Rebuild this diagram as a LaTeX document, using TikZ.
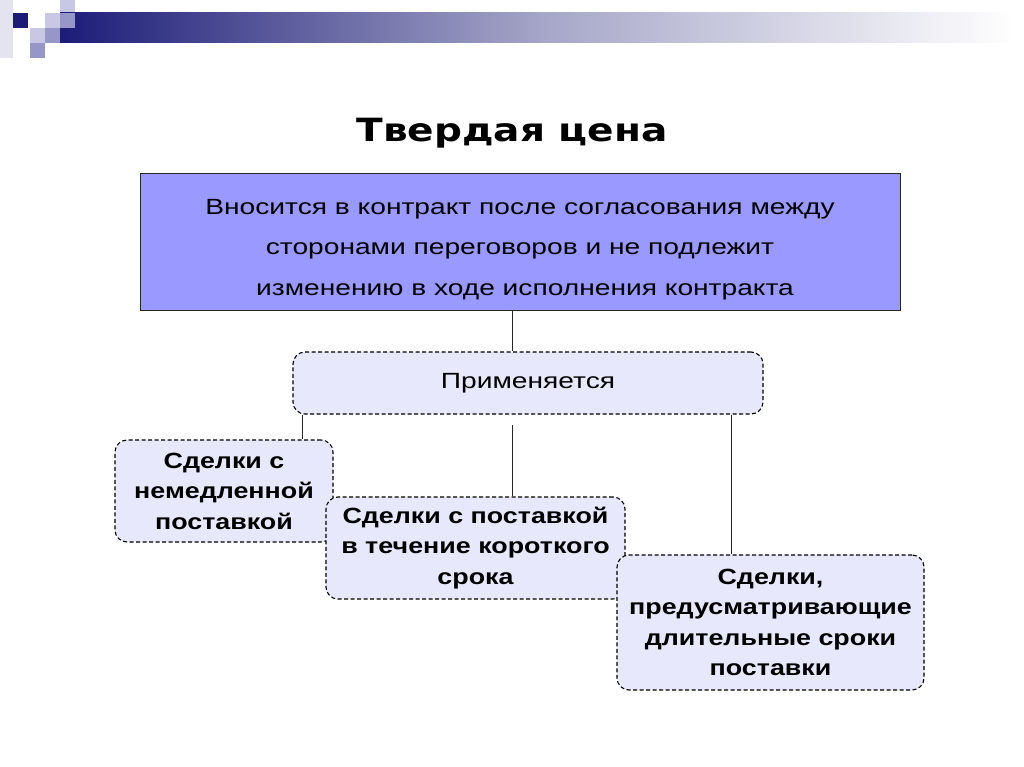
\documentclass[tikz,border=0pt]{standalone}
\usepackage{fontspec}
\setmainfont{Liberation Sans}
\newfontfamily\regwide[FakeStretch=1.28]{Liberation Sans}
\newfontfamily\boldwide[FakeStretch=1.22]{Liberation Sans Bold}
\newfontfamily\titlefont[FakeStretch=1.22]{DejaVu Sans Bold}
\definecolor{navy}{RGB}{28,28,120}
\definecolor{midbar}{RGB}{165,165,200}
\definecolor{mainfill}{RGB}{153,153,255}
\definecolor{lav}{RGB}{232,232,252}
\definecolor{sq1}{RGB}{228,228,240}
\definecolor{sq2}{RGB}{200,200,228}
\definecolor{sq3}{RGB}{150,150,200}
\begin{document}
\begin{tikzpicture}[x=1pt,y=-1pt,
  mainbox/.style={draw=black!85, line width=0.9pt, fill=mainfill, minimum width=760pt, minimum height=137pt, inner sep=0pt},
  maintext/.style={align=center, inner sep=0pt, font=\regwide\fontsize{22}{40.5}\selectfont},
  dbox/.style={draw=black, line width=1.1pt, dash pattern=on 4pt off 2.5pt, fill=lav, rounded corners=12pt, align=center, inner sep=0pt},
  boldtxt/.style={font=\boldwide\fontsize{22}{30.5}\selectfont},
  conn/.style={draw=black!85, line width=0.9pt}
]
\useasboundingbox (0,0) rectangle (1024,767);
\fill[white] (0,0) rectangle (1024,767);
% header decoration
\fill[sq1] (0,0) rectangle (13,58);
\fill[sq2] (60,0) rectangle (75,13);
\shade[left color=navy, right color=midbar] (60,13) rectangle (540,43);
\shade[left color=midbar, right color=white] (539,13) rectangle (1015,43);
\fill[sq2] (45,13) rectangle (60,28);
\fill[sq3] (60,13) rectangle (75,28);
\fill[navy] (13,13) rectangle (28,28);
\fill[sq2] (30,28) rectangle (45,43);
\fill[sq3] (45,28) rectangle (60,43);
\fill[sq3] (30,43) rectangle (45,58);
% title
\node[font=\titlefont\fontsize{32}{36}\selectfont] (title) at (512,133) {Твердая цена};
% main box
\node[mainbox] (main) at (520,241.5) {};
\node[maintext] (maintxt) at ([yshift=-8pt]main.center) {Вносится в контракт после согласования между\\сторонами переговоров и не подлежит\\\hspace*{10pt}изменению в ходе исполнения контракта};
\node[dbox, minimum width=470pt, minimum height=62pt, font=\regwide\fontsize{22}{26}\selectfont] (app) at (528,383) {Применяется};
\draw[conn] (main.south -| 512,0) -- (app.north -| 512,0);
% child boxes
\node[dbox, boldtxt, minimum width=218pt, minimum height=102pt] (b1) at (224,491) {Сделки с\\немедленной\\поставкой};
\node[dbox, boldtxt, minimum width=299pt, minimum height=102pt] (b2) at (475.5,548) {Сделки с поставкой\\в течение короткого\\срока};
\node[dbox, boldtxt, minimum width=307pt, minimum height=135pt] (b3) at (770.5,622.5) {Сделки,\\предусматривающие\\длительные сроки\\поставки};
\draw[conn] (app.south -| 302,0) -- (b1.north -| 302,0);
\draw[conn, shorten <=10pt] (app.south -| 512,0) -- (b2.north -| 512,0);
\draw[conn] (app.south -| 731,0) -- (b3.north -| 731,0);
\end{tikzpicture}
\end{document}
